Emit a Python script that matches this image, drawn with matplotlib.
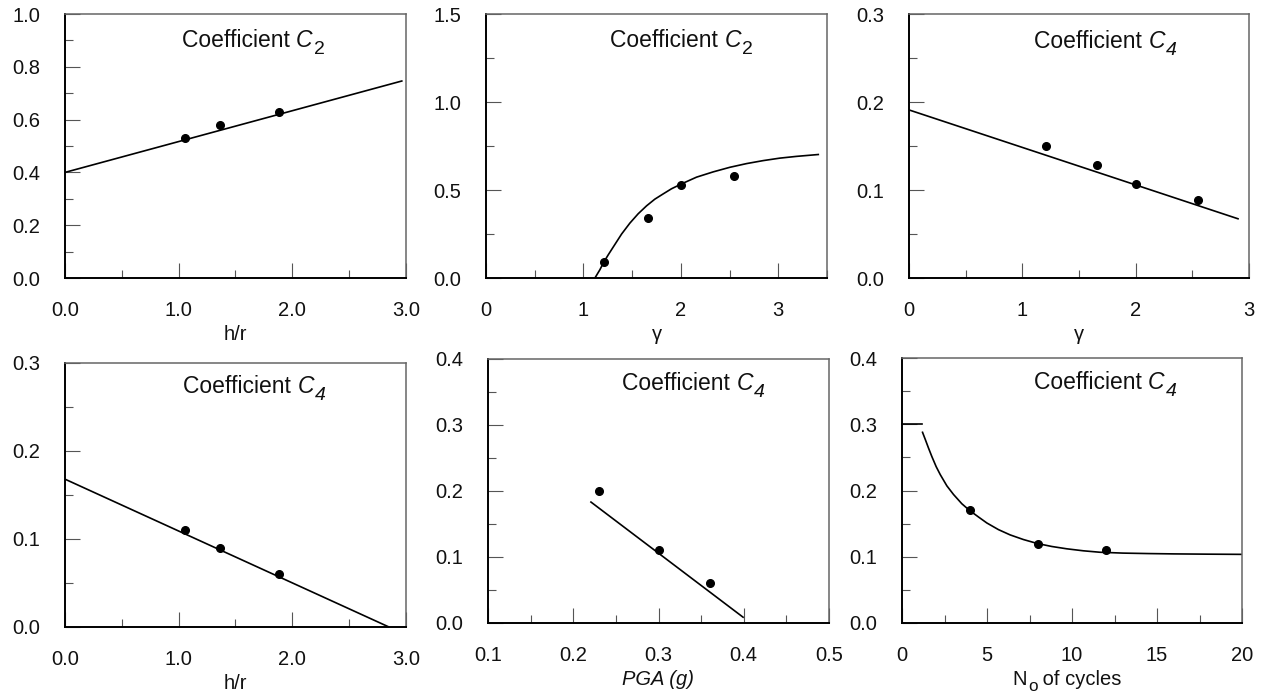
import matplotlib
matplotlib.use("Agg")
import matplotlib.pyplot as plt
from matplotlib.ticker import MultipleLocator, FormatStrFormatter

plt.rcParams['font.family'] = ['Liberation Sans', 'DejaVu Sans']
plt.rcParams['mathtext.fontset'] = 'custom'
plt.rcParams['mathtext.rm'] = 'Liberation Sans'
plt.rcParams['mathtext.it'] = 'Liberation Sans:italic'

# --- C2 versus h/r ---
c2_hr_x = [1.06, 1.36, 1.88]
c2_hr_y = [0.53, 0.58, 0.63]
c2_hr_fit_x = [0.0, 2.97]
c2_hr_fit_y = [0.40, 0.747]

# --- C2 versus gamma ---
c2_g_x = [1.21, 1.66, 2.00, 2.55]
c2_g_y = [0.09, 0.34, 0.53, 0.58]
c2_g_fit_x = [1.118, 1.169, 1.210, 1.255, 1.306, 1.392, 1.477, 1.562, 1.648,
              1.733, 1.819, 1.904, 2.000, 2.161, 2.332, 2.503, 2.674, 2.845,
              3.015, 3.186, 3.419]
c2_g_fit_y = [0.000, 0.047, 0.091, 0.132, 0.176, 0.250, 0.312, 0.365, 0.410,
              0.448, 0.478, 0.507, 0.533, 0.573, 0.603, 0.629, 0.650, 0.667,
              0.681, 0.691, 0.702]

# --- C4 versus gamma ---
c4_g_x = [1.21, 1.66, 2.00, 2.55]
c4_g_y = [0.150, 0.128, 0.107, 0.089]
c4_g_fit_x = [0.0, 2.91]
c4_g_fit_y = [0.191, 0.067]

# --- C4 versus h/r ---
c4_hr_x = [1.06, 1.36, 1.88]
c4_hr_y = [0.11, 0.09, 0.06]
c4_hr_fit_x = [0.0, 2.85]
c4_hr_fit_y = [0.168, 0.0]

# --- C4 versus PGA ---
c4_pga_x = [0.23, 0.30, 0.36]
c4_pga_y = [0.20, 0.11, 0.06]
c4_pga_fit_x = [0.22, 0.40]
c4_pga_fit_y = [0.184, 0.008]

# --- C4 versus number of cycles ---
c4_n_x = [4.0, 8.0, 12.0]
c4_n_y = [0.17, 0.12, 0.11]
c4_n_cap_x = [0.0, 1.17]
c4_n_cap_y = [0.30, 0.30]
c4_n_fit_x = [1.19, 1.37, 1.56, 1.76, 2.01, 2.25, 2.64, 3.03, 3.52, 3.97,
              4.50, 4.99, 5.67, 6.36, 7.14, 7.96, 8.81, 9.69, 10.66, 11.64,
              13.0, 14.5, 16.0, 18.0, 20.0]
c4_n_fit_y = [0.289, 0.277, 0.264, 0.251, 0.236, 0.224, 0.207, 0.194, 0.180, 0.170,
              0.160, 0.151, 0.141, 0.133, 0.126, 0.120, 0.1155, 0.112, 0.109, 0.1068,
              0.1055, 0.1048, 0.1043, 0.1039, 0.1036]

TICK_FS = 14.5
TITLE_FS = 16.5
INK = '#111111'

fig = plt.figure(figsize=(12.62, 6.98), dpi=100)
W, H = 1262.0, 698.0


def make_axes(left, right, top, bottom):
    return fig.add_axes([left / W, 1 - bottom / H, (right - left) / W, (bottom - top) / H])


def style(ax, xlim, ylim, xmaj, xmin, ymaj, ymin, xfmt, yfmt):
    ax.set_xlim(*xlim)
    ax.set_ylim(*ylim)
    ax.xaxis.set_major_locator(MultipleLocator(xmaj))
    ax.xaxis.set_minor_locator(MultipleLocator(xmin))
    ax.yaxis.set_major_locator(MultipleLocator(ymaj))
    ax.yaxis.set_minor_locator(MultipleLocator(ymin))
    ax.xaxis.set_major_formatter(FormatStrFormatter(xfmt))
    ax.yaxis.set_major_formatter(FormatStrFormatter(yfmt))
    ax.tick_params(which='major', direction='in', length=11, width=0.8,
                   color='#555555', labelsize=TICK_FS, labelcolor=INK)
    ax.tick_params(which='minor', direction='in', length=5.5, width=0.8, color='#555555')
    ax.tick_params(axis='x', which='major', pad=16.5)
    ax.tick_params(axis='y', which='major', pad=18)
    ax.tick_params(top=False, right=False, which='both')
    for side in ('left', 'bottom'):
        ax.spines[side].set_color('#000000')
        ax.spines[side].set_linewidth(1.4)
    for side in ('top', 'right'):
        ax.spines[side].set_color('#666666')
        ax.spines[side].set_linewidth(1.1)


def title(ax, sub, x, y, sub_italic):
    t1 = ax.text(x, y, 'Coefficient ', transform=ax.transAxes, ha='left',
                 va='baseline', fontsize=TITLE_FS, color=INK)
    t2 = ax.annotate('C', xy=(1, 0), xycoords=t1, ha='left', va='bottom',
                     fontsize=TITLE_FS, style='italic', color=INK)
    ax.annotate(sub, xy=(1, 0), xycoords=t2, xytext=(0.6, -4.2),
                textcoords='offset points', ha='left', va='bottom',
                fontsize=TITLE_FS * 0.85, color=INK,
                style='italic' if sub_italic else 'normal')


def draw(ax, px, py, fx, fy):
    ax.plot(fx, fy, color='black', lw=1.2, solid_capstyle='butt',
            solid_joinstyle='round', clip_on=False)
    ax.plot(px, py, 'o', color='black', ms=5.5, clip_on=False)


LABEL_PAD = 4

# top row
ax1 = make_axes(65, 406, 14, 278)
style(ax1, (0, 3), (0, 1.0), 1.0, 0.5, 0.2, 0.1, '%.1f', '%.1f')
draw(ax1, c2_hr_x, c2_hr_y, c2_hr_fit_x, c2_hr_fit_y)
title(ax1, '2', 0.343, 0.876, False)
ax1.set_xlabel('h/r', fontsize=TICK_FS, labelpad=LABEL_PAD, color=INK)

ax2 = make_axes(486, 827, 14, 278)
style(ax2, (0, 3.5), (0, 1.5), 1, 0.5, 0.5, 0.25, '%d', '%.1f')
draw(ax2, c2_g_x, c2_g_y, c2_g_fit_x, c2_g_fit_y)
title(ax2, '2', 0.364, 0.875, False)
ax2.set_xlabel('γ', fontsize=TICK_FS, labelpad=LABEL_PAD, color=INK)

ax3 = make_axes(909, 1249, 14, 278)
style(ax3, (0, 3), (0, 0.3), 1, 0.5, 0.1, 0.05, '%d', '%.1f')
draw(ax3, c4_g_x, c4_g_y, c4_g_fit_x, c4_g_fit_y)
title(ax3, '4', 0.368, 0.872, True)
ax3.set_xlabel('γ', fontsize=TICK_FS, labelpad=LABEL_PAD, color=INK)

# bottom row
ax4 = make_axes(65, 406, 363, 627)
style(ax4, (0, 3), (0, 0.3), 1.0, 0.5, 0.1, 0.05, '%.1f', '%.1f')
draw(ax4, c4_hr_x, c4_hr_y, c4_hr_fit_x, c4_hr_fit_y)
title(ax4, '4', 0.346, 0.886, True)
ax4.set_xlabel('h/r', fontsize=TICK_FS, labelpad=LABEL_PAD, color=INK)

ax5 = make_axes(488, 829, 359, 623)
style(ax5, (0.1, 0.5), (0, 0.4), 0.1, 0.05, 0.1, 0.05, '%.1f', '%.1f')
draw(ax5, c4_pga_x, c4_pga_y, c4_pga_fit_x, c4_pga_fit_y)
title(ax5, '4', 0.393, 0.883, True)
ax5.set_xlabel('PGA (g)', fontsize=TICK_FS, style='italic', labelpad=LABEL_PAD, color=INK)

ax6 = make_axes(902, 1242, 358, 623)
style(ax6, (0, 20), (0, 0.4), 5, 2.5, 0.1, 0.05, '%d', '%.1f')
ax6.plot(c4_n_cap_x, c4_n_cap_y, color='black', lw=1.2, clip_on=False)
draw(ax6, c4_n_x, c4_n_y, c4_n_fit_x, c4_n_fit_y)
title(ax6, '4', 0.388, 0.883, True)

# x label "N_o of cycles" built from pieces so the subscript keeps a readable size
n_txt = ax6.text(0.326, -0.234, 'N', transform=ax6.transAxes, ha='left',
                 va='baseline', fontsize=TICK_FS, color=INK)
o_txt = ax6.annotate('o', xy=(1, 0), xycoords=n_txt, xytext=(0.3, -3.5),
                     textcoords='offset points', ha='left', va='bottom',
                     fontsize=TICK_FS * 0.85, color=INK)
ax6.annotate(' of cycles', xy=(1, 0), xycoords=(o_txt, n_txt), ha='left',
             va='bottom', fontsize=TICK_FS, color=INK)

fig.savefig('out.png', dpi=100, facecolor='white')
